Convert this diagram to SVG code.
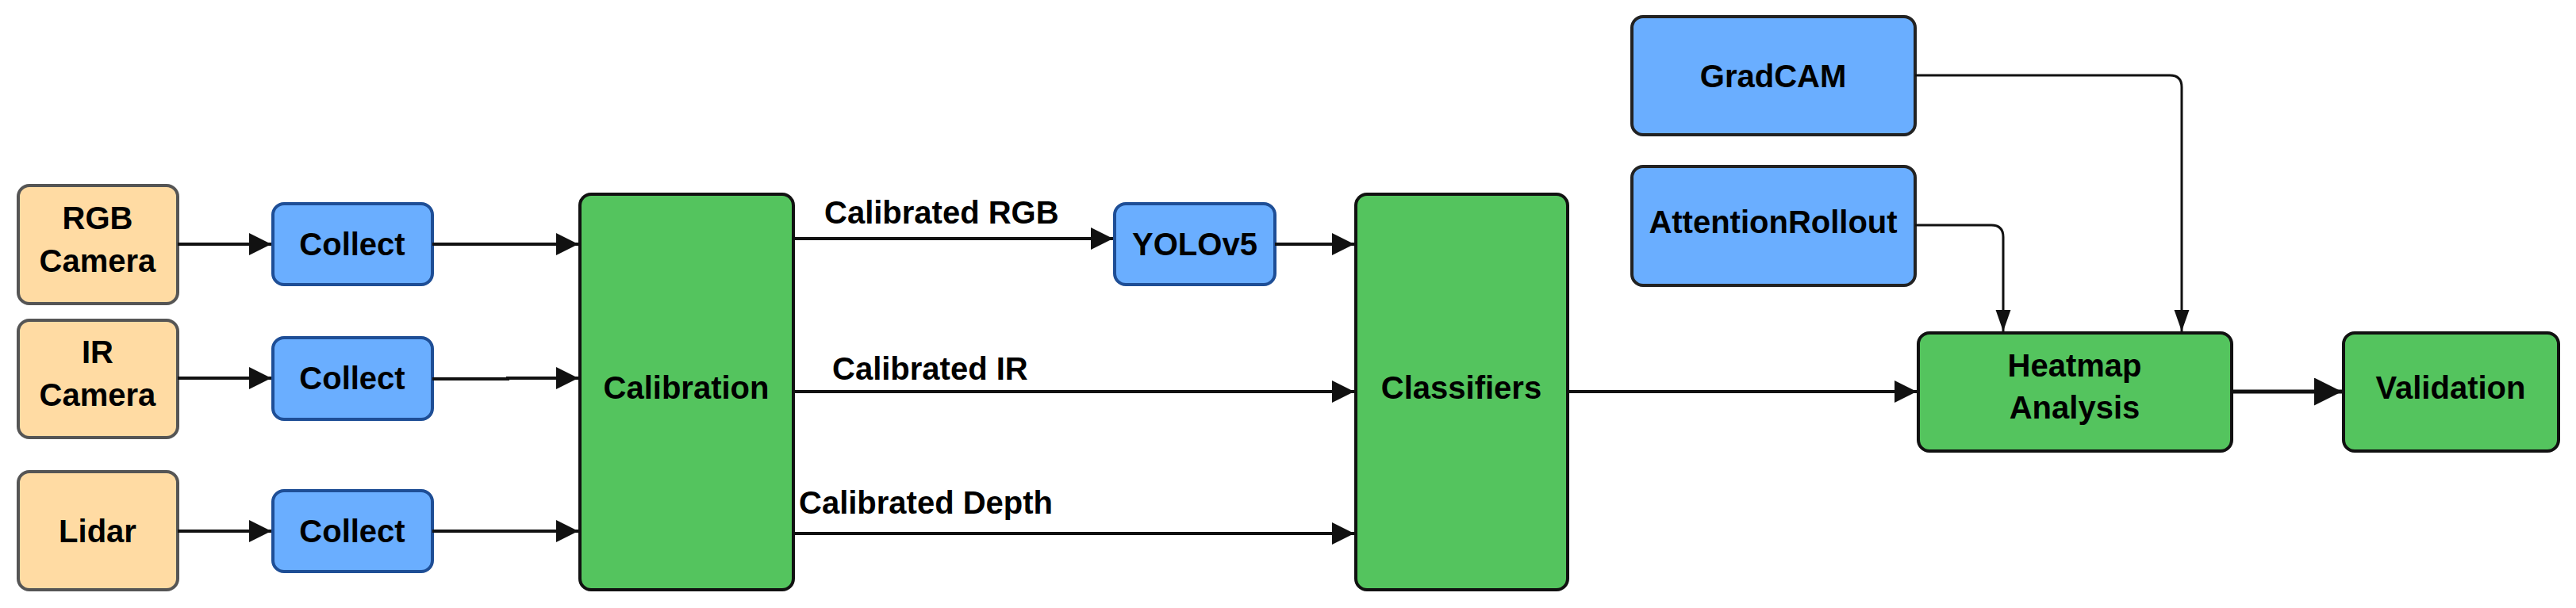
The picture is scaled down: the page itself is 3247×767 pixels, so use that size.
<svg xmlns="http://www.w3.org/2000/svg" width="3247" height="767" viewBox="0 0 3247 767">
<style>
text{font-family:"Liberation Sans",Arial,sans-serif;font-weight:bold;font-size:40px;fill:#000;text-anchor:middle}
.lbl{text-anchor:start}
.src{fill:#FFDBA3;stroke:#555;stroke-width:4}
.blue{fill:#6AAEFF;stroke:#1E4E96;stroke-width:4}
.blk{fill:#6AAEFF;stroke:#222;stroke-width:4}
.grn{fill:#54C45E;stroke:#111;stroke-width:4}
.c{fill:none;stroke:#111;stroke-width:4}
.t{fill:none;stroke:#111;stroke-width:3}
</style>
<defs>
<marker id="a" viewBox="0 0 10 10" refX="10" refY="5" markerWidth="7" markerHeight="7" markerUnits="strokeWidth" orient="auto"><path d="M0,0L10,5L0,10z" fill="#111"/></marker>
<marker id="b" viewBox="0 0 10 10" refX="10" refY="5" markerWidth="9" markerHeight="9" markerUnits="strokeWidth" orient="auto"><path d="M0,1.5L10,5L0,8.5z" fill="#111"/></marker>
</defs>
<rect width="3247" height="767" fill="#fff"/>
<g id="rgb"><rect class="src" x="23" y="234" width="201" height="149" rx="14"/><text x="123" y="289">RGB</text><text x="123" y="343">Camera</text></g>
<g id="ir"><rect class="src" x="23" y="404" width="201" height="148" rx="14"/><text x="123" y="458">IR</text><text x="123" y="512">Camera</text></g>
<g id="lidar"><rect class="src" x="23" y="595" width="201" height="149" rx="14"/><text x="123" y="684">Lidar</text></g>
<g id="collect1"><rect class="blue" x="344" y="257" width="201" height="102" rx="14"/><text x="444" y="322">Collect</text></g>
<g id="collect2"><rect class="blue" x="344" y="426" width="201" height="103" rx="14"/><text x="444" y="491">Collect</text></g>
<g id="collect3"><rect class="blue" x="344" y="619" width="201" height="102" rx="14"/><text x="444" y="684">Collect</text></g>
<g id="calibration"><rect class="grn" x="731" y="245" width="269" height="499" rx="14"/><text x="865" y="503">Calibration</text></g>
<g id="yolo"><rect class="blue" x="1405" y="257" width="202" height="102" rx="14"/><text x="1506" y="322">YOLOv5</text></g>
<g id="classifiers"><rect class="grn" x="1709" y="245" width="267" height="499" rx="14"/><text x="1842" y="503">Classifiers</text></g>
<g id="gradcam"><rect class="blk" x="2057" y="21" width="357" height="149" rx="14"/><text x="2235" y="110">GradCAM</text></g>
<g id="attention"><rect class="blk" x="2057" y="210" width="357" height="150" rx="14"/><text x="2235" y="294">AttentionRollout</text></g>
<g id="heatmap"><rect class="grn" x="2418" y="420" width="395" height="149" rx="14"/><text x="2615" y="475">Heatmap</text><text x="2615" y="528">Analysis</text></g>
<g id="validation"><rect class="grn" x="2954" y="420" width="271" height="149" rx="14"/><text x="3089" y="503">Validation</text></g>
<g id="connectors">
<path class="c" d="M224,308H342" marker-end="url(#a)"/>
<path class="c" d="M224,477H342" marker-end="url(#a)"/>
<path class="c" d="M224,670H342" marker-end="url(#a)"/>
<path class="c" d="M545,308H729" marker-end="url(#a)"/>
<path class="c" d="M545,478H640V477H729" marker-end="url(#a)"/>
<path class="c" d="M545,670H729" marker-end="url(#a)"/>
<path class="c" d="M1000,301H1403" marker-end="url(#a)"/>
<path class="c" d="M1607,308H1707" marker-end="url(#a)"/>
<path class="c" d="M1000,494H1707" marker-end="url(#a)"/>
<path class="c" d="M1000,673H1707" marker-end="url(#a)"/>
<path class="c" d="M1976,494H2416" marker-end="url(#a)"/>
<path class="c" style="stroke-width:5" d="M2813,494H2952" marker-end="url(#a)"/>
<path class="t" d="M2414,95H2735Q2750,95 2750,110V418" marker-end="url(#b)"/>
<path class="t" d="M2414,284H2510Q2525,284 2525,299V418" marker-end="url(#b)"/>
<text class="lbl" x="1039" y="282">Calibrated RGB</text>
<text class="lbl" x="1049" y="479">Calibrated IR</text>
<text class="lbl" x="1007" y="648">Calibrated Depth</text>
</g>
</svg>
